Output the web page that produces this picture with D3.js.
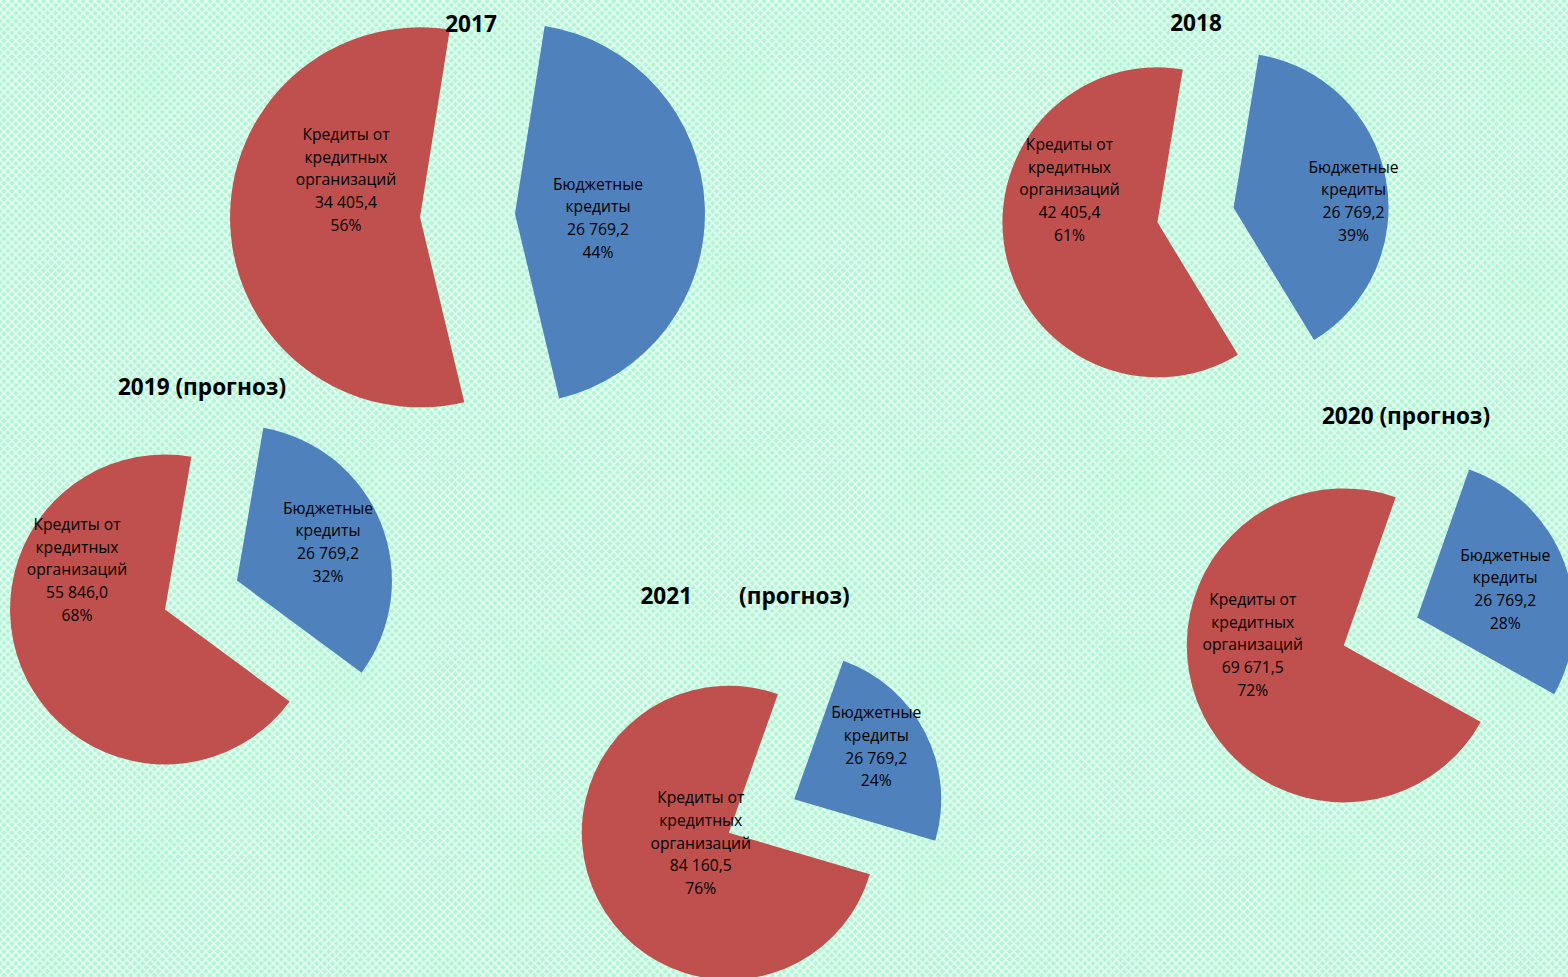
<!DOCTYPE html>
<html>
<head>
<meta charset="utf-8">
<script src="https://cdn.jsdelivr.net/npm/d3@7"></script>
<style>
  body { margin: 0; overflow: hidden; }
  svg { display: block; }
</style>
</head>
<body>
<svg id="chart" width="1568" height="977"></svg>
<script>
// data
var years = ["2017", "2018", "2019 (прогноз)", "2020 (прогноз)", "2021        (прогноз)"];
var budgetCredits = [26769.2, 26769.2, 26769.2, 26769.2, 26769.2];
var bankCredits = [34405.4, 42405.4, 55846.0, 69671.5, 84160.5];
var categories = ["Бюджетные кредиты", "Кредиты от кредитных организаций"];
var labelLines = [["Бюджетные", "кредиты"], ["Кредиты от", "кредитных", "организаций"]];
var colors = ["#4F81BD", "#C0504D"];

// layout of each pie (centre, radius, angle of first slice in degrees, title, label offsets)
var layout = [
  {cx: 467.5, cy: 215.5, r: 190, start: 9,    tx: 471,  ty: 32,  labels: [[83, 5],   [-74, -37]]},
  {cx: 1195.5, cy: 215, r: 155, start: 9.4,  tx: 1196, ty: 31,  labels: [[120, -6], [-88, -32]]},
  {cx: 201,   cy: 595,  r: 155, start: 9.8,  tx: 202,  ty: 395, labels: [[91, -38], [-88, -39]]},
  {cx: 1380.5, cy: 631.5, r: 157, start: 19.3, tx: 1406, ty: 424, labels: [[88, -28], [-91, 0]]},
  {cx: 761.5, cy: 816,  r: 147, start: 19.5, tx: 745,  ty: 604, labels: [[82, -52], [-28, 11]]}
];

var svg = d3.select("#chart");
var width = +svg.attr("width"),
    height = +svg.attr("height");

var ru = d3.formatLocale({decimal: ",", thousands: " ", grouping: [3], currency: ["", ""]});
var fmt = ru.format(",.1f");

// background lattice
var defs = svg.append("defs");
var pat = defs.append("pattern")
    .attr("id", "bg")
    .attr("width", 5.6)
    .attr("height", 5.6)
    .attr("patternUnits", "userSpaceOnUse")
    .attr("patternTransform", "rotate(45)");
pat.append("rect").attr("width", 5.6).attr("height", 5.6).attr("fill", "#b0f6d5");
pat.append("rect").attr("width", 5.6).attr("height", 1.6).attr("fill", "#e8fdf3");
pat.append("rect").attr("width", 1.6).attr("height", 5.6).attr("fill", "#e8fdf3");

svg.append("rect")
    .attr("width", width)
    .attr("height", height)
    .attr("fill", "url(#bg)");

var pie = d3.pie().sort(null);

years.forEach(function(year, i) {
  var L = layout[i];
  var values = [budgetCredits[i], bankCredits[i]];
  var total = d3.sum(values);
  var a0 = L.start * Math.PI / 180;
  pie.startAngle(a0).endAngle(a0 + 2 * Math.PI);

  var arc = d3.arc().innerRadius(0).outerRadius(L.r);
  var explode = 0.25 * L.r;

  var g = svg.append("g")
      .attr("transform", "translate(" + L.cx + "," + L.cy + ")");

  var slices = g.selectAll("g.slice")
    .data(pie(values))
    .enter().append("g")
      .attr("class", "slice")
      .attr("transform", function(d) {
        var mid = (d.startAngle + d.endAngle) / 2;
        return "translate(" + (explode * Math.sin(mid)) + "," + (-explode * Math.cos(mid)) + ")";
      });

  slices.append("path")
      .attr("d", arc)
      .attr("fill", function(d, j) { return colors[j]; });

  slices.append("text")
      .attr("text-anchor", "middle")
      .attr("font-family", "'Open Sans', 'Noto Sans', sans-serif")
      .attr("font-size", 15.7)
      .attr("fill", "#000")
      .each(function(d, j) {
        var lines = labelLines[j].concat([fmt(d.value), Math.round(d.value / total * 100) + "%"]);
        var off = L.labels[j];
        var lh = 22.7;
        var y0 = off[1] - (lines.length - 1) * lh / 2 + 5;
        var t = d3.select(this);
        lines.forEach(function(s, k) {
          t.append("tspan")
            .attr("x", off[0])
            .attr("y", y0 + k * lh)
            .text(s);
        });
      });

  svg.append("text")
      .attr("x", L.tx)
      .attr("y", L.ty)
      .attr("text-anchor", "middle")
      .attr("font-family", "'Open Sans', 'Noto Sans', sans-serif")
      .attr("font-weight", "bold")
      .attr("font-size", 22.6)
      .attr("fill", "#000")
      .style("white-space", "pre")
      .text(year);
});
</script>
</body>
</html>
